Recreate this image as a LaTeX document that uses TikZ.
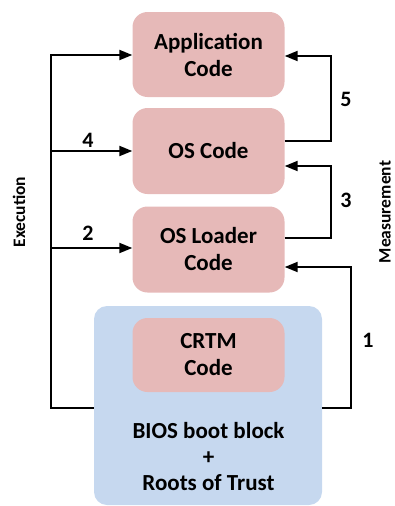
\documentclass[tikz,border=0pt]{standalone}
\usepackage{fontspec}
\setmainfont{Carlito}
\usetikzlibrary{arrows.meta}
\definecolor{pinkbox}{HTML}{E6B9B8}
\definecolor{bluebox}{HTML}{C6D8EF}
\begin{document}
\begin{tikzpicture}[x=1pt,y=-1pt,
  codebox/.style={fill=pinkbox,draw=none,rounded corners=15pt,minimum width=152pt,align=center,inner sep=0pt,font=\bfseries\fontsize{23}{27}\selectfont},
  rootbox/.style={fill=bluebox,draw=none,rounded corners=13pt,minimum width=228pt,minimum height=199pt,inner sep=0pt},
  wire/.style={line width=2pt,black},
  arr/.style={wire,-{Triangle[length=13pt,width=10pt]}},
  numlbl/.style={font=\bfseries\fontsize{22}{25}\selectfont,inner sep=0pt},
  sidelbl/.style={font=\bfseries\fontsize{17.5}{20}\selectfont,inner sep=0pt,rotate=90}]
\useasboundingbox (0,0) rectangle (394,506);
\node[rootbox] (blue) at (208,405.5) {};
\node[codebox,minimum height=85pt] (app) at (208.5,54.5) {Application\\Code};
\node[codebox,minimum height=86pt] (os) at (208.5,151) {OS Code};
\node[codebox,minimum height=86pt] (ldr) at (208.5,249.5) {OS Loader\\Code};
\node[codebox,minimum height=74pt] (crtm) at (208.5,355) {CRTM\\Code};
\node[align=center,inner sep=0pt,font=\bfseries\fontsize{23}{26}\selectfont] (bios) at (208.5,457) {BIOS boot block\\+\\Roots of Trust};
% execution side
\coordinate (Lb) at (51,408);
\coordinate (Lt) at (51,55);
\coordinate (L4) at (51,151);
\coordinate (L2) at (51,248);
\draw[wire] (blue.west |- Lb) -- (Lb) -- (Lt);
\draw[arr] ([xshift=-1pt]Lt) -- (app.west |- Lt);
\draw[arr] (L4) -- (os.west |- L4);
\draw[arr] (L2) -- (ldr.west |- L2);
% measurement side
\coordinate (R5a) at (331,141);
\coordinate (R5b) at (331,56);
\coordinate (R3a) at (331,238);
\coordinate (R3b) at (331,166);
\coordinate (R1a) at (351,408);
\coordinate (R1b) at (351,267);
\draw[arr] (os.east |- R5a) -- (R5a) -- (R5b) -- (app.east |- R5b);
\draw[arr] (ldr.east |- R3a) -- (R3a) -- (R3b) -- (os.east |- R3b);
\draw[arr] (blue.east |- R1a) -- (R1a) -- (R1b) -- (ldr.east |- R1b);
% labels
\node[numlbl] (n4) at (88,140) {4};
\node[numlbl] (n2) at (88,233) {2};
\node[numlbl] (n5) at (346,99) {5};
\node[numlbl] (n3) at (346,200) {3};
\node[numlbl] (n1) at (368,340) {1};
\node[sidelbl] (exe) at (19,212) {Execution};
\node[sidelbl] (mea) at (385,212) {Measurement};
\end{tikzpicture}
\end{document}
